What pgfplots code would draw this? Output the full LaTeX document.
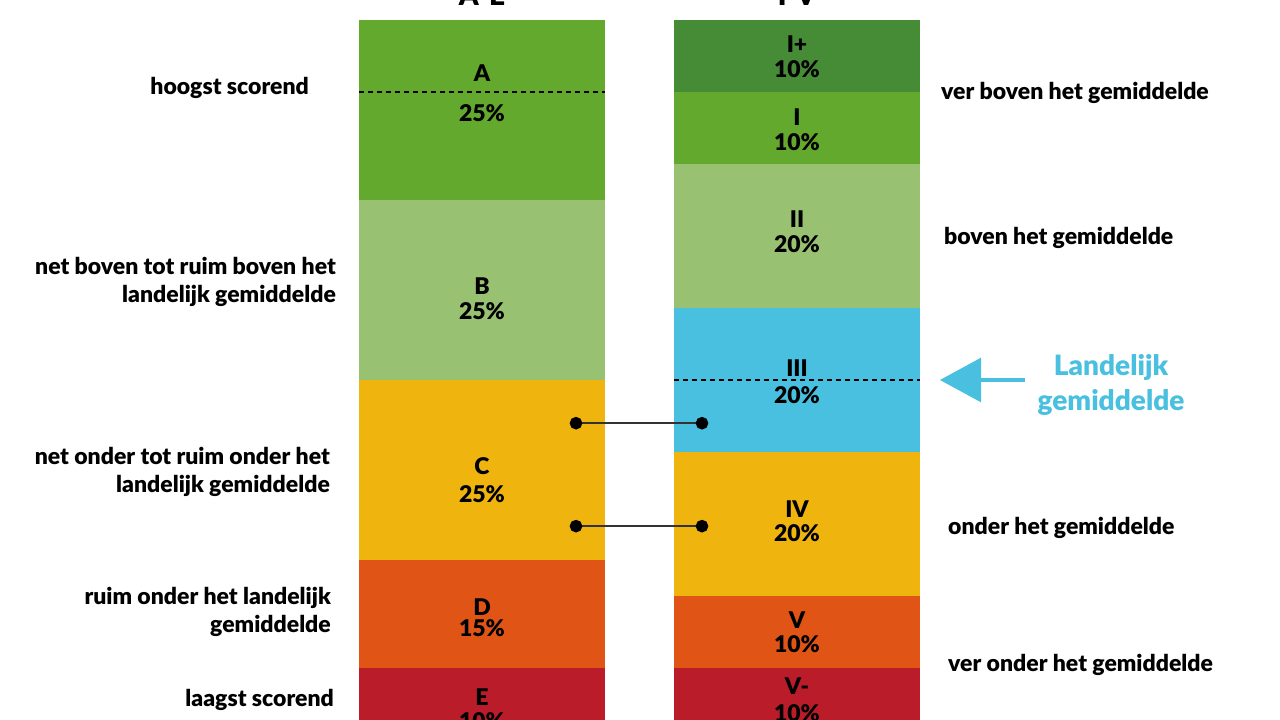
\documentclass[border=0pt]{standalone}
\usepackage{pgfplots}
\pgfplotsset{compat=1.18}
\usepackage{fontspec}
\setmainfont{Lato}[BoldFont={Lato Black}]
\definecolor{cgreen}{HTML}{63A92E}
\definecolor{cdgreen}{HTML}{468B35}
\definecolor{clgreen}{HTML}{98C171}
\definecolor{cblue}{HTML}{4AC0E0}
\definecolor{cyellow}{HTML}{EFB50E}
\definecolor{corange}{HTML}{E05415}
\definecolor{cred}{HTML}{BA1C29}
\pgfplotsset{
  mybase/.style={at={(0pt,0pt)}, anchor=south west, width=1280pt, height=720pt,
    scale only axis, xmin=0, xmax=1280, ymin=2.7778, ymax=102.7778, hide axis},
}
\tikzset{lab/.style={font=\fontsize{23}{28}\selectfont\bfseries, inner sep=0pt}}
\begin{document}
\begin{tikzpicture}
\useasboundingbox (0pt,0pt) rectangle (1280pt,720pt);
\begin{axis}[mybase, ybar stacked, bar width=246]
% left bar: E, D, C, B, A (bottom to top)
\addplot[fill=cred, draw=none] coordinates {(482,10) (797,0)};
\addplot[fill=corange, draw=none] coordinates {(482,15) (797,0)};
\addplot[fill=cyellow, draw=none] coordinates {(482,25) (797,0)};
\addplot[fill=clgreen, draw=none] coordinates {(482,25) (797,0)};
\addplot[fill=cgreen, draw=none] coordinates {(482,25) (797,0)};
% right bar: V-, V, IV, III, II, I, I+
\addplot[fill=cred, draw=none] coordinates {(482,0) (797,10)};
\addplot[fill=corange, draw=none] coordinates {(482,0) (797,10)};
\addplot[fill=cyellow, draw=none] coordinates {(482,0) (797,20)};
\addplot[fill=cblue, draw=none] coordinates {(482,0) (797,20)};
\addplot[fill=clgreen, draw=none] coordinates {(482,0) (797,20)};
\addplot[fill=cgreen, draw=none] coordinates {(482,0) (797,10)};
\addplot[fill=cdgreen, draw=none] coordinates {(482,0) (797,10)};
\end{axis}
\begin{axis}[mybase]
% dashed reference lines
\addplot[black, line width=1.1pt, dash pattern=on 5pt off 4pt] coordinates {(359,90) (605,90)};
\addplot[black, line width=1.1pt, dash pattern=on 5pt off 4pt] coordinates {(674,50) (920,50)};
% connectors
\addplot[black!80, line width=1.6pt, mark=*, mark size=5.5pt, mark options={fill=black, draw=black}] coordinates {(576,44.0) (702,44.0)};
\addplot[black!80, line width=1.6pt, mark=*, mark size=5.5pt, mark options={fill=black, draw=black}] coordinates {(576,29.7) (702,29.7)};
% arrow
\fill[cblue] (axis cs:940,50) -- (axis cs:981,53.1) -- (axis cs:981,46.9) -- cycle;
\draw[cblue, line width=4pt] (axis cs:975,50) -- (axis cs:1025,50);
% titles (mostly outside the picture, as in the reference)
\node[lab, anchor=base, font=\fontsize{28}{32}\selectfont\bfseries] at (axis cs:482,101.95) {A-E};
\node[lab, anchor=base, font=\fontsize{28}{32}\selectfont\bfseries] at (axis cs:797,101.95) {I-V};
% left bar labels
\node[lab] at (axis cs:482,92.64) {A};
\node[lab] at (axis cs:482,87.08) {25\%};
\node[lab] at (axis cs:482,63.06) {B};
\node[lab] at (axis cs:482,59.58) {25\%};
\node[lab] at (axis cs:482,38.06) {C};
\node[lab] at (axis cs:482,34.17) {25\%};
\node[lab] at (axis cs:482,18.47) {D};
\node[lab] at (axis cs:482,15.56) {15\%};
\node[lab] at (axis cs:482,5.97) {E};
\node[lab] at (axis cs:482,2.6) {10\%};
% right bar labels
\node[lab] at (axis cs:797,96.67) {I+};
\node[lab] at (axis cs:797,93.19) {10\%};
\node[lab] at (axis cs:797,86.53) {I};
\node[lab] at (axis cs:797,83.06) {10\%};
\node[lab] at (axis cs:797,72.36) {II};
\node[lab] at (axis cs:797,68.89) {20\%};
\node[lab] at (axis cs:797,51.67) {III};
\node[lab] at (axis cs:797,47.92) {20\%};
\node[lab] at (axis cs:797,32.08) {IV};
\node[lab] at (axis cs:797,28.75) {20\%};
\node[lab] at (axis cs:797,16.67) {V};
\node[lab] at (axis cs:797,13.33) {10\%};
\node[lab] at (axis cs:797,7.5) {V-};
\node[lab] at (axis cs:797,3.75) {10\%};
% left descriptions
\node[lab, anchor=east, align=right] at (axis cs:309,90.56) {hoogst scorend};
\node[lab, anchor=east, align=right] at (axis cs:336,63.6) {net boven tot ruim boven het\\landelijk gemiddelde};
\node[lab, anchor=east, align=right] at (axis cs:330,37.22) {net onder tot ruim onder het\\landelijk gemiddelde};
\node[lab, anchor=east, align=right] at (axis cs:331,17.78) {ruim onder het landelijk\\gemiddelde};
\node[lab, anchor=east, align=right] at (axis cs:334,5.56) {laagst scorend};
% right descriptions
\node[lab, anchor=west] at (axis cs:941,89.86) {ver boven het gemiddelde};
\node[lab, anchor=west] at (axis cs:944,69.72) {boven het gemiddelde};
\node[lab, anchor=west] at (axis cs:948,29.44) {onder het gemiddelde};
\node[lab, anchor=west] at (axis cs:948,10.42) {ver onder het gemiddelde};
% national average label
\node[lab, text=cblue, font=\fontsize{28}{35}\selectfont\bfseries, align=center] at (axis cs:1111,49.3) {Landelijk\\gemiddelde};
\end{axis}
\end{tikzpicture}
\end{document}
